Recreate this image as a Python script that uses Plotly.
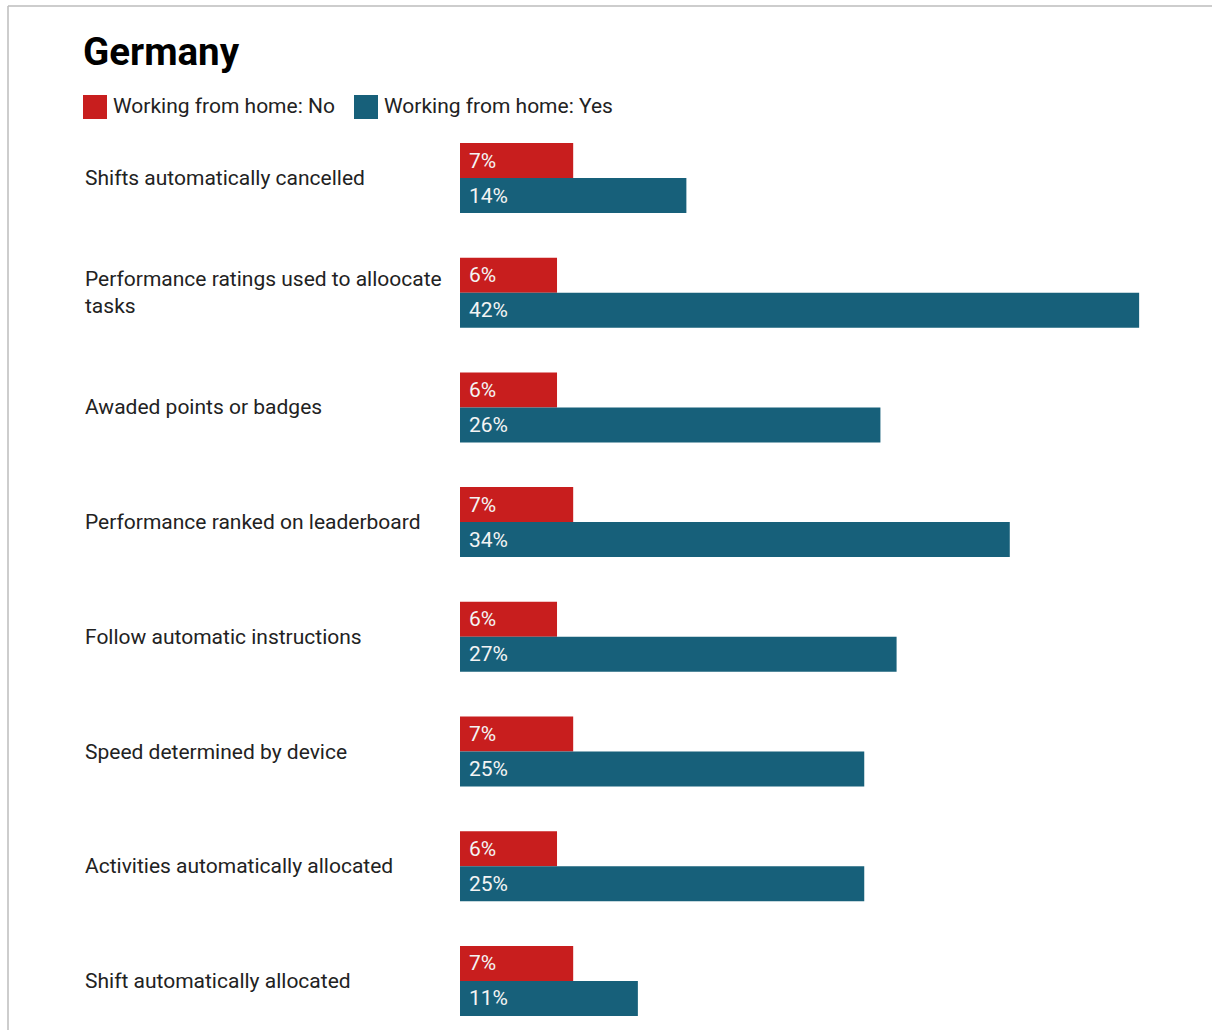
import plotly.graph_objects as go

# Survey results: share of workers experiencing each practice
categories = [
    "Shifts automatically cancelled",
    "Performance ratings used to alloocate<br>tasks",
    "Awaded points or badges",
    "Performance ranked on leaderboard",
    "Follow automatic instructions",
    "Speed determined by device",
    "Activities automatically allocated",
    "Shift automatically allocated",
]
wfh_no = [7, 6, 6, 7, 6, 7, 6, 7]
wfh_yes = [14, 42, 26, 34, 27, 25, 25, 11]

series_names = ["Working from home: No", "Working from home: Yes"]
colors = ["#C81E1E", "#17607A"]

W, H = 1212, 1030
FONT = "Roboto"

fig = go.Figure()
for name, vals, col in zip(series_names, [wfh_no, wfh_yes], colors):
    fig.add_trace(go.Bar(
        y=categories, x=vals, orientation="h", name=name,
        marker=dict(color=col, line=dict(width=0)),
        hoverinfo="skip", showlegend=False,
    ))

annotations = []
# value labels inside the bars
for vals, shift in [(wfh_no, 17.5), (wfh_yes, -17.5)]:
    for cat, v in zip(categories, vals):
        annotations.append(dict(
            x=0, y=cat, xref="x", yref="y", text=f"{v}%",
            xanchor="left", yanchor="middle", xshift=7, yshift=shift,
            showarrow=False, font=dict(family=FONT, size=21, color="#F4F4F4"),
        ))

# category labels, left aligned
for cat in categories:
    annotations.append(dict(
        x=83 / W, y=cat, xref="paper", yref="y", text=cat,
        xanchor="left", yanchor="middle", align="left",
        showarrow=False, font=dict(family=FONT, size=21, color="#222222"),
    ))

# title
annotations.append(dict(
    x=81 / W, y=1 - 52 / H, xref="paper", yref="paper", text="<b>Germany</b>",
    xanchor="left", yanchor="middle", showarrow=False,
    font=dict(family=FONT, size=38.5, color="#000000"),
))

shapes = []
# legend swatches and texts
legend_items = [(83, series_names[0], colors[0]), (354, series_names[1], colors[1])]
for x0, name, col in legend_items:
    shapes.append(dict(
        type="rect", xref="paper", yref="paper",
        x0=x0 / W, x1=(x0 + 24) / W, y0=1 - 119 / H, y1=1 - 95 / H,
        fillcolor=col, line=dict(width=0),
    ))
    annotations.append(dict(
        x=(x0 + 28) / W, y=1 - 106 / H, xref="paper", yref="paper", text=name,
        xanchor="left", yanchor="middle", showarrow=False,
        font=dict(family=FONT, size=21, color="#222222"),
    ))

# frame lines along the top and left edges
shapes.append(dict(type="line", xref="paper", yref="paper",
                   x0=8 / W, x1=1, y0=1 - 6 / H, y1=1 - 6 / H,
                   line=dict(color="#BDBDBD", width=1.5)))
shapes.append(dict(type="line", xref="paper", yref="paper",
                   x0=8 / W, x1=8 / W, y0=0, y1=1 - 6 / H,
                   line=dict(color="#BDBDBD", width=1.5)))

px_per_cat = 114.7
first_center = 178
y_top = -first_center / px_per_cat
y_bottom = (H - first_center) / px_per_cat

fig.update_layout(
    width=W, height=H,
    margin=dict(l=0, r=0, t=0, b=0),
    paper_bgcolor="white", plot_bgcolor="white",
    barmode="group", bargap=1 - 70 / px_per_cat, bargroupgap=0,
    xaxis=dict(domain=[460 / W, 1], range=[0, 752 / 16.17], visible=False,
               fixedrange=True),
    yaxis=dict(range=[y_bottom, y_top], visible=False, fixedrange=True),
    annotations=annotations, shapes=shapes,
    font=dict(family=FONT),
)

fig.write_html("out.html", config={"displayModeBar": False})
